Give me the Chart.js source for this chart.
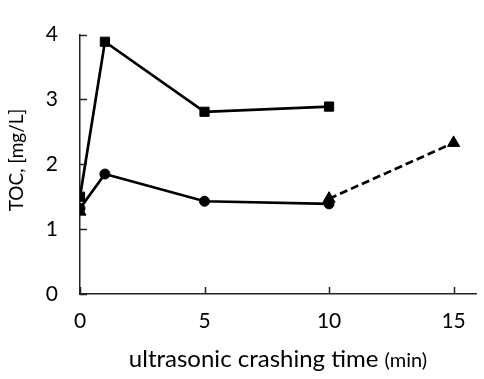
<!DOCTYPE html>
<html>
<head>
<meta charset="utf-8">
<script src="https://cdn.jsdelivr.net/npm/chart.js@4/dist/chart.umd.min.js"></script>
<style>
  html, body { margin: 0; padding: 0; background: #fff; }
  #wrap { width: 484px; height: 379px; }
</style>
</head>
<body>
<div id="wrap"><canvas id="c" width="484" height="379"></canvas></div>
<script>
// Crushing times (min) and measured TOC (mg/L)
const timesMain = [0, 1, 5, 10];
const tocSquare = [1.50, 3.89, 2.81, 2.89];
const tocCircle = [1.32, 1.85, 1.43, 1.39];
const timesTriangle = [0, 5, 10, 15];
const tocTriangle = [1.27, null, 1.47, 2.33];   // gap: no line from 0 to 10
const xTickValues = [0, 5, 10, 15];
const yTickValues = [0, 1, 2, 3, 4];
const xTitle = 'ultrasonic crashing time';
const xTitleUnit = '(min)';
const yTitle = 'TOC, [mg/L]';

const FONT = 'Lato, "Open Sans", sans-serif';

function pts(xs, ys) { return xs.map((x, i) => ({ x: x, y: ys[i] })); }

// Short inward tick marks plus the axis titles
const axisDecor = {
  id: 'axisDecor',
  afterDraw(chart) {
    const { ctx, chartArea, scales } = chart;
    const xs = scales.x, ys = scales.y;
    ctx.save();
    ctx.strokeStyle = '#222';
    ctx.lineWidth = 1.5;
    ctx.beginPath();
    xTickValues.forEach(v => {
      const px = Math.round(xs.getPixelForValue(v)) + 0.5;
      ctx.moveTo(px, chartArea.bottom);
      ctx.lineTo(px, chartArea.bottom - 7);
    });
    yTickValues.forEach(v => {
      const py = Math.round(ys.getPixelForValue(v)) + 0.5;
      ctx.moveTo(chartArea.left, py);
      ctx.lineTo(chartArea.left + 7, py);
    });
    ctx.stroke();

    ctx.fillStyle = '#000';
    ctx.textBaseline = 'alphabetic';
    // x title: main text + smaller unit, centred under the plot area
    const mainFont = '24px ' + FONT;
    const unitFont = '20px ' + FONT;
    ctx.font = mainFont;
    const w1 = ctx.measureText(xTitle + ' ').width;
    ctx.font = unitFont;
    const w2 = ctx.measureText(xTitleUnit).width;
    const cx = (chartArea.left + chartArea.right) / 2;
    const x0 = cx - (w1 + w2) / 2;
    const by = 367;
    ctx.font = mainFont;
    ctx.textAlign = 'left';
    ctx.fillText(xTitle + ' ', x0, by);
    ctx.font = unitFont;
    ctx.fillText(xTitleUnit, x0 + w1, by);

    // y title, rotated
    ctx.save();
    ctx.translate(23, 160);
    ctx.rotate(-Math.PI / 2);
    ctx.font = '19px ' + FONT;
    ctx.textAlign = 'center';
    ctx.fillText(yTitle, 0, 0);
    ctx.restore();
    ctx.restore();
  }
};

const lineBase = {
  borderColor: '#000',
  backgroundColor: '#000',
  pointBackgroundColor: '#000',
  pointBorderColor: '#000',
  pointBorderWidth: 1,
  borderWidth: 2.7,
  showLine: true,
  tension: 0,
  spanGaps: false
};

new Chart(document.getElementById('c'), {
  type: 'scatter',
  data: {
    datasets: [
      Object.assign({}, lineBase, {
        label: 'triangle',
        data: pts(timesTriangle, tocTriangle),
        pointStyle: 'triangle',
        pointRadius: 7,
        borderDash: [8, 4]
      }),
      Object.assign({}, lineBase, {
        label: 'circle',
        data: pts(timesMain, tocCircle),
        pointStyle: 'circle',
        pointRadius: 5
      }),
      Object.assign({}, lineBase, {
        label: 'square',
        data: pts(timesMain, tocSquare),
        pointStyle: 'rect',
        pointRadius: 6.5
      })
    ]
  },
  options: {
    responsive: false,
    animation: false,
    events: [],
    layout: { padding: { top: 20, right: 0, left: 0, bottom: 0 } },
    plugins: { legend: { display: false }, tooltip: { enabled: false } },
    scales: {
      x: {
        type: 'linear',
        min: 0,
        max: 15.9,
        afterBuildTicks(scale) { scale.ticks = xTickValues.map(v => ({ value: v })); },
        afterFit(scale) { scale.height = 85; },
        grid: { display: false, drawTicks: false },
        border: { display: true, color: '#222', width: 1.5 },
        ticks: { color: '#000', font: { family: FONT, size: 21 }, padding: 15, maxRotation: 0 }
      },
      y: {
        type: 'linear',
        min: 0,
        max: 4,
        afterBuildTicks(scale) { scale.ticks = yTickValues.map(v => ({ value: v })); },
        afterFit(scale) { scale.width = 80; },
        grid: { display: false, drawTicks: false },
        border: { display: true, color: '#222', width: 1.5 },
        ticks: { color: '#000', font: { family: FONT, size: 21 }, padding: 22 }
      }
    }
  },
  plugins: [axisDecor]
});
</script>
</body>
</html>
